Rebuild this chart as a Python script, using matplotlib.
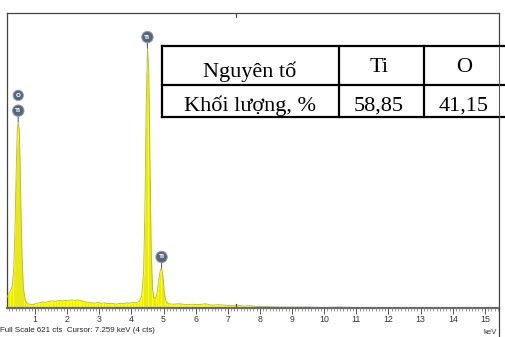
import matplotlib
matplotlib.use("Agg")
import matplotlib.pyplot as plt
from matplotlib.ticker import MultipleLocator

# EDS spectrum (keV, counts) read channel by channel
energy = [0.13, 0.18, 0.24, 0.30, 0.34, 0.38, 0.42, 0.45, 0.48, 0.51, 0.54,
          0.57, 0.60, 0.64, 0.70, 0.76, 0.85, 0.95, 1.05, 1.15, 1.25, 1.35,
          1.45, 1.55, 1.65, 1.75, 1.85, 1.95, 2.05, 2.15, 2.25, 2.35, 2.45,
          2.55, 2.65, 2.75, 2.85, 2.95, 3.05, 3.15, 3.25, 3.35, 3.45, 3.55,
          3.65, 3.75, 3.85, 3.95, 4.05, 4.15, 4.25, 4.32, 4.38, 4.42, 4.46,
          4.50, 4.54, 4.58, 4.62, 4.66, 4.70, 4.75, 4.80, 4.85, 4.90, 4.94,
          4.98, 5.02, 5.07, 5.15, 5.30, 5.50, 5.70, 5.90, 6.10, 6.30, 6.50,
          6.70, 6.90, 7.10, 7.30, 7.50, 7.70, 7.90, 8.20, 8.60, 9.00, 9.50,
          10.0, 10.5, 11.0, 12.0, 13.0, 14.0, 15.0, 15.44]
counts = [22, 30, 36, 48, 85, 170, 300, 375, 392, 375, 300,
          190, 105, 42, 16, 9, 8, 7, 10, 11, 13, 12,
          14, 15, 14, 16, 15, 16, 15, 17, 16, 17, 15,
          13, 12, 11, 10, 12, 10, 11, 9, 10, 9, 8,
          10, 9, 11, 10, 12, 11, 14, 25, 75, 200, 420,
          547, 500, 300, 115, 40, 22, 20, 32, 58, 80, 84,
          68, 36, 15, 9, 8, 9, 7, 8, 7, 9, 6,
          7, 6, 5, 6, 4, 5, 3, 3, 2, 2, 2,
          1, 2, 1, 1, 1, 1, 1, 1]

# peak identification markers: (energy, counts, label, stack level)
peak_energy = [0.48, 0.48, 4.50, 4.94]
peak_counts = [392, 392, 547, 84]
peak_label = ["Ti", "O", "Ti", "Ti"]
peak_level = [0, 1, 0, 0]

full_scale = 621
cursor_kev = 7.259
cursor_cts = 4

# composition table
tbl_header = ["Nguyên tố", "Ti", "O"]
tbl_values = ["Khối lượng, %", "58,85", "41,15"]

W, H = 505, 337
fig = plt.figure(figsize=(W / 100, H / 100), dpi=100)
fig.patch.set_facecolor("white")

ax = fig.add_axes([7 / W, 1 - 308 / H, 492 / W, 295 / H])
ax.set_xlim(0.13, 15.44)
ax.set_ylim(0, full_scale)

ax.fill_between(energy, counts, 0, color="#ffff00", lw=0, zorder=2)
ax.plot(energy, counts, color="#b4b44a", lw=0.6, zorder=3)
ax.vlines(energy, 0, [c * 0.9 for c in counts], color="#d8d830", lw=0.4, zorder=2.5)

for e, c, lab, lev in zip(peak_energy, peak_counts, peak_label, peak_level):
    dy = 8 + 11 * lev
    ax.annotate(lab, xy=(e, c), xytext=(0, dy), textcoords="offset points",
                ha="center", va="center", fontsize=4.2, color="white",
                fontweight="bold", zorder=6,
                bbox=dict(boxstyle="circle,pad=0.45", fc="#56657a", ec="#8d99a8", lw=0.7),
                arrowprops=dict(arrowstyle="-", color="#56657a", lw=0.8,
                                shrinkA=0, shrinkB=0) if lev == 0 else None)

# cursor marks on the top and bottom frame
ax.axvline(cursor_kev, ymin=0, ymax=0.015, color="#444444", lw=0.8, zorder=4)
ax.axvline(cursor_kev, ymin=0.985, ymax=1, color="#444444", lw=0.8, zorder=4)

for side in ["top", "left", "right"]:
    ax.spines[side].set_color("#444444")
    ax.spines[side].set_linewidth(0.9)
ax.spines["bottom"].set_color("#6a6a6a")
ax.spines["bottom"].set_linewidth(1.6)
ax.spines["bottom"].set_zorder(5)

ax.yaxis.set_visible(False)
ax.xaxis.set_major_locator(MultipleLocator(1))
ax.xaxis.set_minor_locator(MultipleLocator(0.1))
ax.tick_params(axis="x", which="major", direction="out", length=4, width=0.7,
               color="#555555", labelsize=6.3, labelcolor="#333333", pad=1.2)
ax.tick_params(axis="x", which="minor", direction="out", length=2, width=0.5,
               color="#777777")
ax.set_xticks(range(1, 16))
ax.set_xticklabels([str(i) for i in range(1, 16)], family="Liberation Sans")

# overlay in pixel coordinates for the table and captions
ov = fig.add_axes([0, 0, 1, 1], zorder=10)
ov.set_xlim(0, W)
ov.set_ylim(H, 0)
ov.axis("off")
ov.patch.set_alpha(0)

ov.plot([499, 499], [308, H], color="#444444", lw=0.9)
ov.text(0, 331, f"Full Scale {full_scale} cts  Cursor: {cursor_kev:.3f} keV ({cursor_cts} cts)",
        fontsize=5.7, family="Liberation Sans", color="#222222", va="center", ha="left")
ov.text(497, 333, "keV", fontsize=5.6, family="Liberation Sans", color="#333333",
        va="center", ha="right")

col_x = [162, 339, 424, 508]
row_y = [46, 85, 117]
ov.fill_between([162, 508], 46, 117, color="white", zorder=1)
for yy in row_y:
    ov.plot([col_x[0], col_x[-1]], [yy, yy], color="black", lw=1.6, zorder=2,
            solid_capstyle="projecting")
for xx in col_x:
    ov.plot([xx, xx], [row_y[0], row_y[-1]], color="black", lw=1.6, zorder=2,
            solid_capstyle="projecting")
ov.plot([499, 499], [46, 117], color="#555555", lw=0.8, zorder=3)

cell_cx = [250, 379, 464]
head_base = [77, 72, 72]
for cx, by, txt in zip(cell_cx, head_base, tbl_header):
    ov.text(cx, by, txt, fontsize=16, family="Liberation Serif", ha="center",
            va="baseline", color="black", zorder=4)
for cx, txt in zip(cell_cx, tbl_values):
    ov.text(cx, 111, txt, fontsize=16, family="Liberation Serif", ha="center",
            va="baseline", color="black", zorder=4)

fig.savefig("out.png", dpi=100)
